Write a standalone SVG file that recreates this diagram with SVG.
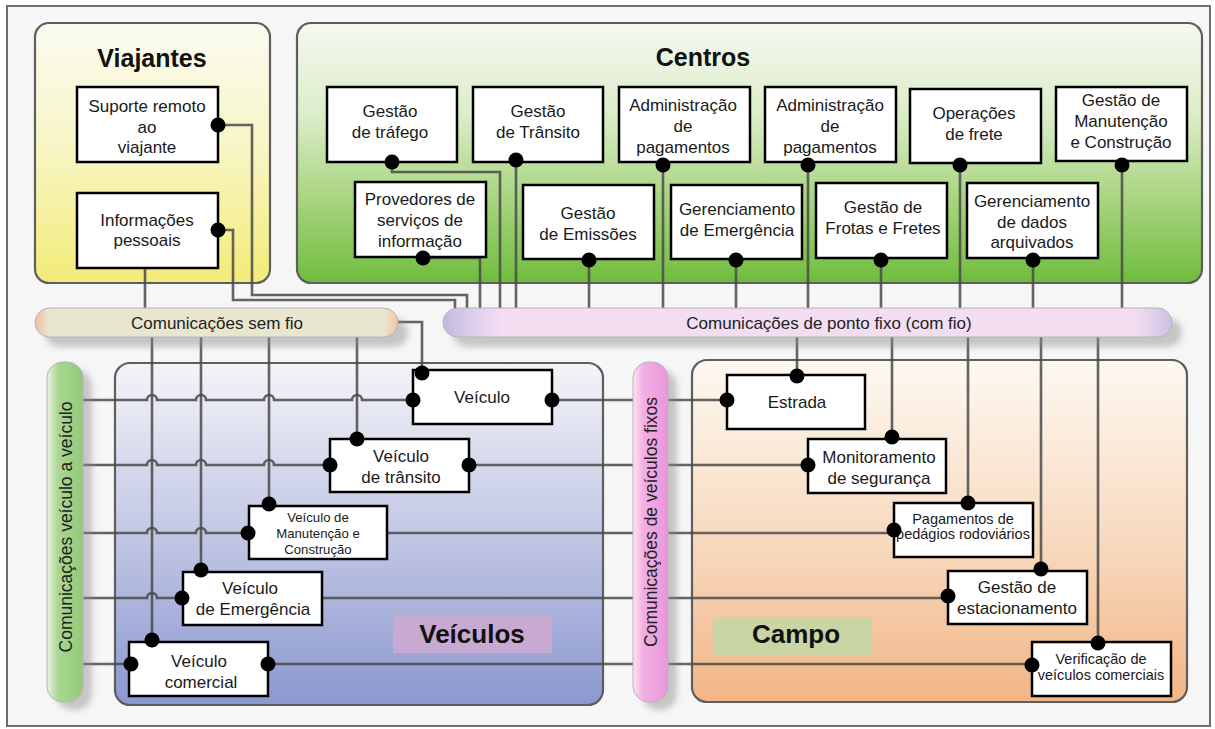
<svg xmlns="http://www.w3.org/2000/svg" width="1215" height="729" viewBox="0 0 1215 729">
  <defs>
    <linearGradient id="gTrav" x1="0" y1="0" x2="0" y2="1">
      <stop offset="0" stop-color="#fbfbf1"/>
      <stop offset="0.45" stop-color="#f8f6c9"/>
      <stop offset="1" stop-color="#f2ec78"/>
    </linearGradient>
    <linearGradient id="gCent" x1="0" y1="0" x2="0" y2="1">
      <stop offset="0" stop-color="#f5f8f0"/>
      <stop offset="0.35" stop-color="#dcedca"/>
      <stop offset="0.7" stop-color="#a4d37a"/>
      <stop offset="1" stop-color="#6fbc3e"/>
    </linearGradient>
    <linearGradient id="gVeh" x1="0" y1="0" x2="0" y2="1">
      <stop offset="0" stop-color="#f4f4f8"/>
      <stop offset="0.5" stop-color="#c2c7e4"/>
      <stop offset="1" stop-color="#8b98d0"/>
    </linearGradient>
    <linearGradient id="gField" x1="0" y1="0" x2="0" y2="1">
      <stop offset="0" stop-color="#fdf8f2"/>
      <stop offset="0.5" stop-color="#f8dcc2"/>
      <stop offset="1" stop-color="#f2b586"/>
    </linearGradient>
    <linearGradient id="gWire" x1="0" y1="0" x2="1" y2="0">
      <stop offset="0" stop-color="#efbfa0"/>
      <stop offset="0.04" stop-color="#e9e6cf"/>
      <stop offset="0.96" stop-color="#e9e6cf"/>
      <stop offset="1" stop-color="#efc7a6"/>
    </linearGradient>
    <linearGradient id="gFixed" x1="0" y1="0" x2="1" y2="0">
      <stop offset="0" stop-color="#bfbadf"/>
      <stop offset="0.05" stop-color="#e4d3ee"/>
      <stop offset="0.08" stop-color="#f2ddf1"/>
      <stop offset="0.95" stop-color="#f2ddf1"/>
      <stop offset="1" stop-color="#cbc2e6"/>
    </linearGradient>
    <linearGradient id="gV2V" x1="0" y1="0" x2="1" y2="0">
      <stop offset="0" stop-color="#eef3e6"/>
      <stop offset="0.3" stop-color="#aad791"/>
      <stop offset="1" stop-color="#93c97a"/>
    </linearGradient>
    <linearGradient id="gFV" x1="0" y1="0" x2="1" y2="0">
      <stop offset="0" stop-color="#fbe3f6"/>
      <stop offset="0.3" stop-color="#f3aee4"/>
      <stop offset="1" stop-color="#e996d9"/>
    </linearGradient>
    <filter id="soft" x="-20%" y="-20%" width="140%" height="140%">
      <feGaussianBlur stdDeviation="3"/>
    </filter>
    <style>
      .frame { fill: #f6f6f6; stroke: #6e6e6e; stroke-width: 2; }
      .panel { stroke: #5e5e5e; stroke-width: 2.2; }
      .node { fill: #ffffff; stroke: #000000; stroke-width: 2.5; }
      .dot { fill: #000000; }
      .wire { fill: none; stroke: #4a4a4a; stroke-width: 2.6; stroke-opacity: 0.85; }
      .bar { stroke: #b9b2b8; stroke-width: 1; }
      .shadow { fill: #8a8a8a; opacity: 0.45; filter: url(#soft); }
      text { font-family: "Liberation Sans", Arial, sans-serif; fill: #1a1a1a; }
      .t { font-size: 17px; text-anchor: middle; }
      .s { font-size: 14.5px; text-anchor: middle; }
      .xs { font-size: 13.2px; text-anchor: middle; }
      .title { font-size: 25px; font-weight: bold; text-anchor: middle; fill: #111; }
      .bt { font-size: 17px; text-anchor: middle; fill: #222; }
    </style>
  </defs>

  <!-- outer frame -->
  <rect class="frame" x="7" y="6" width="1203" height="720"/>

  <!-- domain panels -->
  <g id="panel-viajantes">
    <rect class="panel" x="35" y="23" width="235" height="260" rx="14" fill="url(#gTrav)"/>
    <text class="title" x="152" y="67">Viajantes</text>
  </g>
  <g id="panel-centros">
    <rect class="panel" x="297" y="23" width="905" height="260" rx="14" fill="url(#gCent)"/>
    <text class="title" x="703" y="66" font-size="26">Centros</text>
  </g>
  <g id="panel-veiculos">
    <rect class="panel" x="115" y="363" width="488" height="342" rx="15" fill="url(#gVeh)"/>
    <rect x="393" y="615" width="159" height="38" fill="#cba8d0" opacity="0.9"/>
    <text class="title" x="472" y="643" style="font-size:26px">Veículos</text>
  </g>
  <g id="panel-campo">
    <rect class="panel" x="692" y="360" width="495" height="342" rx="15" fill="url(#gField)"/>
    <rect x="713" y="617" width="159" height="38" fill="#c6d6a4" opacity="0.95"/>
    <text class="title" x="796" y="643" style="font-size:26px">Campo</text>
  </g>

  <!-- connectors -->
  <g id="connectors">
    <path class="wire" d="M218 125 H252 V295 H467 V308"/>
    <path class="wire" d="M218 230 H233 V300 H455 V308"/>
    <path class="wire" d="M145 268 V308"/>
    <path class="wire" d="M392 162 V172 H500 V308"/>
    <path class="wire" d="M516 160 V308"/>
    <path class="wire" d="M423 258 H480 V308"/>
    <path class="wire" d="M589 260 V308"/>
    <path class="wire" d="M663 165 V308"/>
    <path class="wire" d="M736 260 V308"/>
    <path class="wire" d="M808 165 V308"/>
    <path class="wire" d="M881 260 V308"/>
    <path class="wire" d="M960 165 V308"/>
    <path class="wire" d="M1033 260 V308"/>
    <path class="wire" d="M1122 165 V308"/>
    <path class="wire" d="M797 337 V376"/>
    <path class="wire" d="M892 337 V437"/>
    <path class="wire" d="M968 337 V503"/>
    <path class="wire" d="M1041 337 V569"/>
    <path class="wire" d="M1098 337 V643"/>
    <path class="wire" d="M398 322 H422 V373"/>
    <path class="wire" d="M357 337 V439"/>
    <path class="wire" d="M269 337 V504"/>
    <path class="wire" d="M201 337 V570"/>
    <path class="wire" d="M152 337 V640"/>
    <path class="wire" d="M83 400 H147 a5 5 0 0 1 10 0 H196 a5 5 0 0 1 10 0 H264 a5 5 0 0 1 10 0 H352 a5 5 0 0 1 10 0 H413"/>
    <path class="wire" d="M552 400 H727"/>
    <path class="wire" d="M83 465 H147 a5 5 0 0 1 10 0 H196 a5 5 0 0 1 10 0 H264 a5 5 0 0 1 10 0 H330"/>
    <path class="wire" d="M469 465 H808"/>
    <path class="wire" d="M83 533 H147 a5 5 0 0 1 10 0 H196 a5 5 0 0 1 10 0 H248"/>
    <path class="wire" d="M387 533 H894"/>
    <path class="wire" d="M83 598 H147 a5 5 0 0 1 10 0 H182"/>
    <path class="wire" d="M322 598 H948"/>
    <path class="wire" d="M83 664 H131"/>
    <path class="wire" d="M268 664 H1032"/>
  </g>

  <!-- communication buses -->
  <g id="bus-sem-fio">
    <rect class="shadow" x="45" y="318" width="363" height="29" rx="14.5"/>
    <rect class="bar" x="35" y="308" width="363" height="29" rx="14.5" fill="url(#gWire)"/>
    <text class="bt" x="217" y="329">Comunicações sem fio</text>
  </g>
  <g id="bus-ponto-fixo">
    <rect class="shadow" x="453" y="318" width="729" height="29" rx="14.5"/>
    <rect class="bar" x="443" y="308" width="729" height="29" rx="14.5" fill="url(#gFixed)"/>
    <text class="bt" x="829" y="329">Comunicações de ponto fixo (com fio)</text>
  </g>
  <g id="bus-v2v">
    <rect class="shadow" x="56" y="370" width="36" height="340" rx="16"/>
    <rect class="bar" x="47" y="362" width="36" height="340" rx="16" fill="url(#gV2V)"/>
    <text class="bt" style="font-size:17.5px" transform="translate(72 527) rotate(-90)">Comunicações veículo a veículo</text>
  </g>
  <g id="bus-veiculos-fixos">
    <rect class="shadow" x="642" y="370" width="35" height="340" rx="16"/>
    <rect class="bar" x="633" y="362" width="35" height="340" rx="16" fill="url(#gFV)"/>
    <text class="bt" style="font-size:17.5px" transform="translate(657 522) rotate(-90)">Comunicações de veículos fixos</text>
  </g>

  <!-- travelers -->
  <g id="suporte-remoto">
    <rect class="node" x="77" y="87" width="141" height="75"/>
    <text class="t" x="147" y="112">Suporte remoto</text>
    <text class="t" x="147" y="133">ao</text>
    <text class="t" x="147" y="153">viajante</text>
    <circle class="dot" cx="218" cy="125" r="7.5"/>
  </g>
  <g id="informacoes-pessoais">
    <rect class="node" x="77" y="193" width="141" height="75"/>
    <text class="t" x="147" y="226">Informações</text>
    <text class="t" x="147" y="246">pessoais</text>
    <circle class="dot" cx="218" cy="230" r="7.5"/>
  </g>

  <!-- centers, first row -->
  <g id="gestao-trafego">
    <rect class="node" x="327" y="87" width="130" height="75"/>
    <text class="t" x="390" y="117">Gestão</text>
    <text class="t" x="390" y="138">de tráfego</text>
    <circle class="dot" cx="392" cy="162" r="7.5"/>
  </g>
  <g id="gestao-transito">
    <rect class="node" x="473" y="87" width="130" height="75"/>
    <text class="t" x="538" y="117">Gestão</text>
    <text class="t" x="538" y="138">de Trânsito</text>
    <circle class="dot" cx="516" cy="160" r="7.5"/>
  </g>
  <g id="administracao-pagamentos-1">
    <rect class="node" x="619" y="87" width="131" height="75"/>
    <text class="t" x="683" y="111">Administração</text>
    <text class="t" x="683" y="132">de</text>
    <text class="t" x="683" y="153">pagamentos</text>
    <circle class="dot" cx="663" cy="165" r="7.5"/>
  </g>
  <g id="administracao-pagamentos-2">
    <rect class="node" x="765" y="87" width="131" height="75"/>
    <text class="t" x="830" y="111">Administração</text>
    <text class="t" x="830" y="132">de</text>
    <text class="t" x="830" y="153">pagamentos</text>
    <circle class="dot" cx="808" cy="165" r="7.5"/>
  </g>
  <g id="operacoes-frete">
    <rect class="node" x="910" y="89" width="131" height="74"/>
    <text class="t" x="974" y="119">Operações</text>
    <text class="t" x="974" y="140">de frete</text>
    <circle class="dot" cx="960" cy="165" r="7.5"/>
  </g>
  <g id="gestao-manutencao">
    <rect class="node" x="1056" y="87" width="131" height="74"/>
    <text class="t" x="1121" y="106">Gestão de</text>
    <text class="t" x="1121" y="127">Manutenção</text>
    <text class="t" x="1121" y="148">e Construção</text>
    <circle class="dot" cx="1122" cy="165" r="7.5"/>
  </g>

  <!-- centers, second row -->
  <g id="provedores-informacao">
    <rect class="node" x="355" y="182" width="131" height="75"/>
    <text class="t" x="420" y="205">Provedores de</text>
    <text class="t" x="420" y="226">serviços de</text>
    <text class="t" x="420" y="247">informação</text>
    <circle class="dot" cx="423" cy="258" r="7.5"/>
  </g>
  <g id="gestao-emissoes">
    <rect class="node" x="523" y="185" width="131" height="74"/>
    <text class="t" x="588" y="219">Gestão</text>
    <text class="t" x="588" y="240">de Emissões</text>
    <circle class="dot" cx="589" cy="260" r="7.5"/>
  </g>
  <g id="gerenciamento-emergencia">
    <rect class="node" x="671" y="185" width="131" height="74"/>
    <text class="t" x="737" y="215">Gerenciamento</text>
    <text class="t" x="737" y="236">de Emergência</text>
    <circle class="dot" cx="736" cy="260" r="7.5"/>
  </g>
  <g id="gestao-frotas">
    <rect class="node" x="816" y="183" width="131" height="75"/>
    <text class="t" x="883" y="213">Gestão de</text>
    <text class="t" x="883" y="234">Frotas e Fretes</text>
    <circle class="dot" cx="881" cy="260" r="7.5"/>
  </g>
  <g id="dados-arquivados">
    <rect class="node" x="967" y="183" width="131" height="75"/>
    <text class="t" x="1032" y="207">Gerenciamento</text>
    <text class="t" x="1032" y="228">de dados</text>
    <text class="t" x="1032" y="248">arquivados</text>
    <circle class="dot" cx="1033" cy="260" r="7.5"/>
  </g>

  <!-- vehicles -->
  <g id="veiculo">
    <rect class="node" x="413" y="370" width="139" height="54"/>
    <text class="t" x="482" y="403">Veículo</text>
    <circle class="dot" cx="422" cy="373" r="7.5"/>
    <circle class="dot" cx="413" cy="400" r="7.5"/>
    <circle class="dot" cx="552" cy="400" r="7.5"/>
  </g>
  <g id="veiculo-transito">
    <rect class="node" x="330" y="439" width="139" height="53"/>
    <text class="t" x="401" y="462">Veículo</text>
    <text class="t" x="401" y="483">de trânsito</text>
    <circle class="dot" cx="357" cy="439" r="7.5"/>
    <circle class="dot" cx="330" cy="465" r="7.5"/>
    <circle class="dot" cx="469" cy="465" r="7.5"/>
  </g>
  <g id="veiculo-manutencao">
    <rect class="node" x="249" y="506" width="138" height="53"/>
    <text class="xs" x="318" y="522">Veículo de</text>
    <text class="xs" x="318" y="538">Manutenção e</text>
    <text class="xs" x="318" y="554">Construção</text>
    <circle class="dot" cx="269" cy="504" r="7.5"/>
    <circle class="dot" cx="248" cy="533" r="7.5"/>
  </g>
  <g id="veiculo-emergencia">
    <rect class="node" x="183" y="572" width="139" height="53"/>
    <text class="t" x="250" y="594">Veículo</text>
    <text class="t" x="253" y="615">de Emergência</text>
    <circle class="dot" cx="201" cy="570" r="7.5"/>
    <circle class="dot" cx="182" cy="598" r="7.5"/>
  </g>
  <g id="veiculo-comercial">
    <rect class="node" x="129" y="642" width="139" height="54"/>
    <text class="t" x="199" y="667">Veículo</text>
    <text class="t" x="201" y="688">comercial</text>
    <circle class="dot" cx="152" cy="640" r="7.5"/>
    <circle class="dot" cx="131" cy="664" r="7.5"/>
    <circle class="dot" cx="268" cy="664" r="7.5"/>
  </g>

  <!-- field -->
  <g id="estrada">
    <rect class="node" x="727" y="375" width="138" height="54"/>
    <text class="t" x="797" y="408">Estrada</text>
    <circle class="dot" cx="797" cy="376" r="7.5"/>
    <circle class="dot" cx="727" cy="400" r="7.5"/>
  </g>
  <g id="monitoramento-seguranca">
    <rect class="node" x="808" y="439" width="138" height="54"/>
    <text class="t" x="879" y="463">Monitoramento</text>
    <text class="t" x="879" y="484">de segurança</text>
    <circle class="dot" cx="892" cy="437" r="7.5"/>
    <circle class="dot" cx="808" cy="465" r="7.5"/>
  </g>
  <g id="pagamentos-pedagios">
    <rect class="node" x="894" y="503" width="139" height="54"/>
    <text class="s" x="963" y="524">Pagamentos de</text>
    <text class="s" x="963" y="539">pedágios rodoviários</text>
    <circle class="dot" cx="968" cy="503" r="7.5"/>
    <circle class="dot" cx="894" cy="530" r="7.5"/>
  </g>
  <g id="gestao-estacionamento">
    <rect class="node" x="948" y="571" width="139" height="53"/>
    <text class="t" x="1017" y="593">Gestão de</text>
    <text class="t" x="1017" y="614">estacionamento</text>
    <circle class="dot" cx="1041" cy="569" r="7.5"/>
    <circle class="dot" cx="948" cy="596" r="7.5"/>
  </g>
  <g id="verificacao-veiculos-comerciais">
    <rect class="node" x="1032" y="642" width="139" height="54"/>
    <text class="s" x="1101" y="664">Verificação de</text>
    <text class="s" x="1101" y="680">veículos comerciais</text>
    <circle class="dot" cx="1098" cy="643" r="7.5"/>
    <circle class="dot" cx="1032" cy="665" r="7.5"/>
  </g>
</svg>
